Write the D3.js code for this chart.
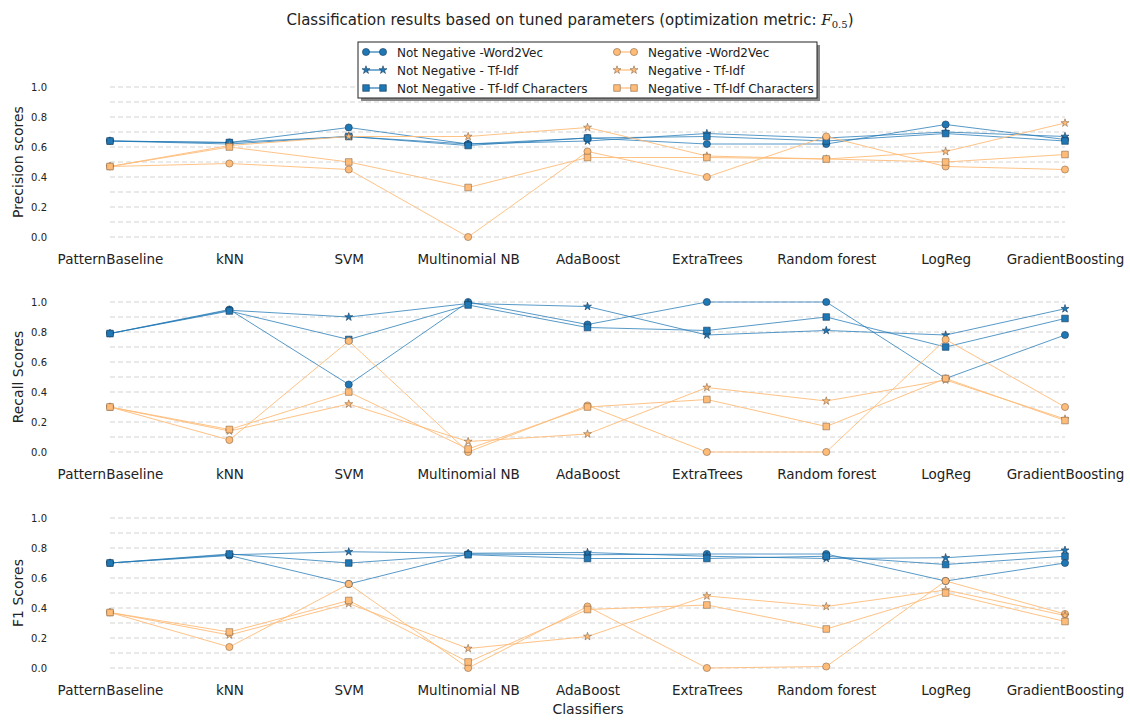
<!DOCTYPE html>
<html>
<head>
<meta charset="utf-8">
<script src="https://cdn.jsdelivr.net/npm/d3@7"></script>
<style>
body { margin: 0; background: #fff; }
text { font-family: "DejaVu Sans", sans-serif; fill: #222; }
</style>
</head>
<body>
<script>
(function(){

//classifier names along the x axis
var classifiers = ["PatternBaseline", "kNN", "SVM", "Multinomial NB", "AdaBoost", "ExtraTrees", "Random forest", "LogReg", "GradientBoosting"];

//series labels (legend order)
var seriesNames = ["Not Negative -Word2Vec", "Not Negative - Tf-Idf", "Not Negative - Tf-Idf Characters",
                   "Negative -Word2Vec", "Negative - Tf-Idf", "Negative - Tf-Idf Characters"];

//precision scores per series
var precNNw2v   = [0.64, 0.63, 0.73, 0.62, 0.66, 0.62, 0.62, 0.75, 0.65];
var precNNtfidf = [0.64, 0.62, 0.67, 0.62, 0.64, 0.69, 0.66, 0.70, 0.67];
var precNNchar  = [0.64, 0.63, 0.67, 0.61, 0.66, 0.67, 0.64, 0.69, 0.64];
var precNw2v    = [0.47, 0.49, 0.45, 0.00, 0.57, 0.40, 0.67, 0.47, 0.45];
var precNtfidf  = [0.47, 0.61, 0.67, 0.67, 0.73, 0.54, 0.52, 0.57, 0.76];
var precNchar   = [0.47, 0.60, 0.50, 0.33, 0.53, 0.53, 0.52, 0.50, 0.55];

//recall scores per series
var recNNw2v   = [0.79, 0.95, 0.45, 1.00, 0.85, 1.00, 1.00, 0.49, 0.78];
var recNNtfidf = [0.79, 0.945, 0.90, 0.99, 0.97, 0.78, 0.81, 0.78, 0.955];
var recNNchar  = [0.79, 0.94, 0.75, 0.98, 0.83, 0.81, 0.90, 0.70, 0.89];
var recNw2v    = [0.30, 0.08, 0.74, 0.00, 0.31, 0.00, 0.00, 0.75, 0.30];
var recNtfidf  = [0.30, 0.14, 0.32, 0.07, 0.12, 0.43, 0.34, 0.48, 0.22];
var recNchar   = [0.30, 0.15, 0.40, 0.02, 0.30, 0.35, 0.17, 0.49, 0.21];

//f1 scores per series
var f1NNw2v   = [0.70, 0.75, 0.56, 0.76, 0.755, 0.76, 0.76, 0.58, 0.70];
var f1NNtfidf = [0.70, 0.755, 0.775, 0.765, 0.77, 0.745, 0.73, 0.735, 0.785];
var f1NNchar  = [0.70, 0.76, 0.70, 0.755, 0.73, 0.73, 0.745, 0.69, 0.745];
var f1Nw2v    = [0.37, 0.14, 0.56, 0.00, 0.41, 0.00, 0.01, 0.58, 0.36];
var f1Ntfidf  = [0.37, 0.22, 0.43, 0.13, 0.21, 0.48, 0.41, 0.52, 0.35];
var f1Nchar   = [0.37, 0.24, 0.45, 0.04, 0.39, 0.42, 0.26, 0.50, 0.31];

//panel definitions
var panels = [
    {label: "Precision scores", series: [precNNw2v, precNNtfidf, precNNchar, precNw2v, precNtfidf, precNchar]},
    {label: "Recall Scores",    series: [recNNw2v, recNNtfidf, recNNchar, recNw2v, recNtfidf, recNchar]},
    {label: "F1 Scores",        series: [f1NNw2v, f1NNtfidf, f1NNchar, f1Nw2v, f1Ntfidf, f1Nchar]}
];

var yTicks = [0, 0.2, 0.4, 0.6, 0.8, 1.0];
var gridTicks = d3.range(0, 11).map(function(d){ return d / 10; });

//style of each series
var blue = "#1f77b4", orange = "#ffbb78";
var colors = [blue, blue, blue, orange, orange, orange];
var symbols = [d3.symbolCircle, d3.symbolStar, d3.symbolSquare, d3.symbolCircle, d3.symbolStar, d3.symbolSquare];
var symSizes = [40, 20, 44, 40, 20, 44];

var width = 1130, height = 720;
var panelTops = [87, 302, 518]; //pixel y of value 1.0 in each panel
var panelH = 150;

var svg = d3.select("body").append("svg")
    .attr("width", width)
    .attr("height", height);

var x = d3.scalePoint()
    .domain(classifiers)
    .range([110, 1065]);

//title
var title = svg.append("text")
    .attr("x", 570)
    .attr("y", 25)
    .attr("text-anchor", "middle")
    .style("font-size", "15px");
title.append("tspan").text("Classification results based on tuned parameters (optimization metric: ");
title.append("tspan").style("font-style", "italic").style("font-family", "DejaVu Serif, serif").text("F");
title.append("tspan").attr("dy", 3).style("font-size", "10px").style("font-family", "DejaVu Serif, serif").text("0.5");
title.append("tspan").attr("dy", -3).text(")");

panels.forEach(function(p, pi){
    var y = d3.scaleLinear()
        .domain([0, 1])
        .range([panelTops[pi] + panelH, panelTops[pi]]);

    var g = svg.append("g");

    //dashed grid lines
    g.selectAll(".grid")
        .data(gridTicks)
        .enter()
        .append("line")
        .attr("x1", x.range()[0])
        .attr("x2", x.range()[1])
        .attr("y1", function(d){ return y(d); })
        .attr("y2", function(d){ return y(d); })
        .attr("stroke", "#c8c8c8")
        .attr("stroke-width", 0.8)
        .attr("stroke-dasharray", "5,3");

    //y axis tick labels
    var yAxis = d3.axisLeft(y).tickValues(yTicks).tickFormat(d3.format(".1f")).tickSize(0).tickPadding(0);
    var ya = g.append("g").attr("transform", "translate(47,0)").call(yAxis);
    ya.select(".domain").remove();
    ya.selectAll("text").style("font-size", "10px").style("font-family", "DejaVu Sans, sans-serif").attr("fill", "#222");

    //x axis tick labels
    var xAxis = d3.axisBottom(x).tickSize(0).tickPadding(0);
    var xa = g.append("g").attr("transform", "translate(0," + (panelTops[pi] + panelH + 17) + ")").call(xAxis);
    xa.select(".domain").remove();
    xa.selectAll("text").style("font-size", "13.5px").style("font-family", "DejaVu Sans, sans-serif").attr("fill", "#222");

    //y axis label
    g.append("text")
        .attr("transform", "translate(23," + (panelTops[pi] + panelH / 2) + ") rotate(-90)")
        .attr("text-anchor", "middle")
        .style("font-size", "14px")
        .text(p.label);

    var line = d3.line()
        .x(function(d, i){ return x(classifiers[i]); })
        .y(function(d){ return y(d); });

    //lines and markers for each series
    p.series.forEach(function(vals, si){
        g.append("path")
            .datum(vals)
            .attr("d", line)
            .attr("fill", "none")
            .attr("stroke", colors[si])
            .attr("stroke-opacity", si < 3 ? 0.75 : 0.9)
            .attr("stroke-width", 1);
    });
    p.series.forEach(function(vals, si){
        g.selectAll(".m" + si)
            .data(vals)
            .enter()
            .append("path")
            .attr("d", d3.symbol().type(symbols[si]).size(symSizes[si]))
            .attr("transform", function(d, i){ return "translate(" + x(classifiers[i]) + "," + y(d) + ")"; })
            .attr("fill", colors[si])
            .attr("stroke", si < 3 ? "#1a3d5c" : "#8a6a4a")
            .attr("stroke-width", 0.6);
    });
});

//x axis label
svg.append("text")
    .attr("x", 588)
    .attr("y", 714)
    .attr("text-anchor", "middle")
    .style("font-size", "14px")
    .text("Classifiers");

//legend with shadow
var lg = svg.append("g");
lg.append("rect").attr("x", 361).attr("y", 45).attr("width", 459).attr("height", 56).attr("fill", "#888");
lg.append("rect").attr("x", 358).attr("y", 42).attr("width", 459).attr("height", 56)
    .attr("fill", "#fff").attr("stroke", "#222").attr("stroke-width", 1);

var legX = [366, 617], legY = [52, 70, 88];
seriesNames.forEach(function(name, si){
    var col = Math.floor(si / 3), row = si % 3;
    var lx = legX[col], ly = legY[row];
    lg.append("line")
        .attr("x1", lx).attr("x2", lx + 17)
        .attr("y1", ly).attr("y2", ly)
        .attr("stroke", colors[si]).attr("stroke-width", 1.2);
    [lx, lx + 17].forEach(function(mx){
        lg.append("path")
            .attr("d", d3.symbol().type(symbols[si]).size(symSizes[si]))
            .attr("transform", "translate(" + mx + "," + ly + ")")
            .attr("fill", colors[si])
            .attr("stroke", si < 3 ? "#1a3d5c" : "#8a6a4a")
            .attr("stroke-width", 0.6);
    });
    lg.append("text")
        .attr("x", lx + 31)
        .attr("y", ly + 4.5)
        .style("font-size", "12px")
        .text(name);
});

})();
</script>
</body>
</html>
